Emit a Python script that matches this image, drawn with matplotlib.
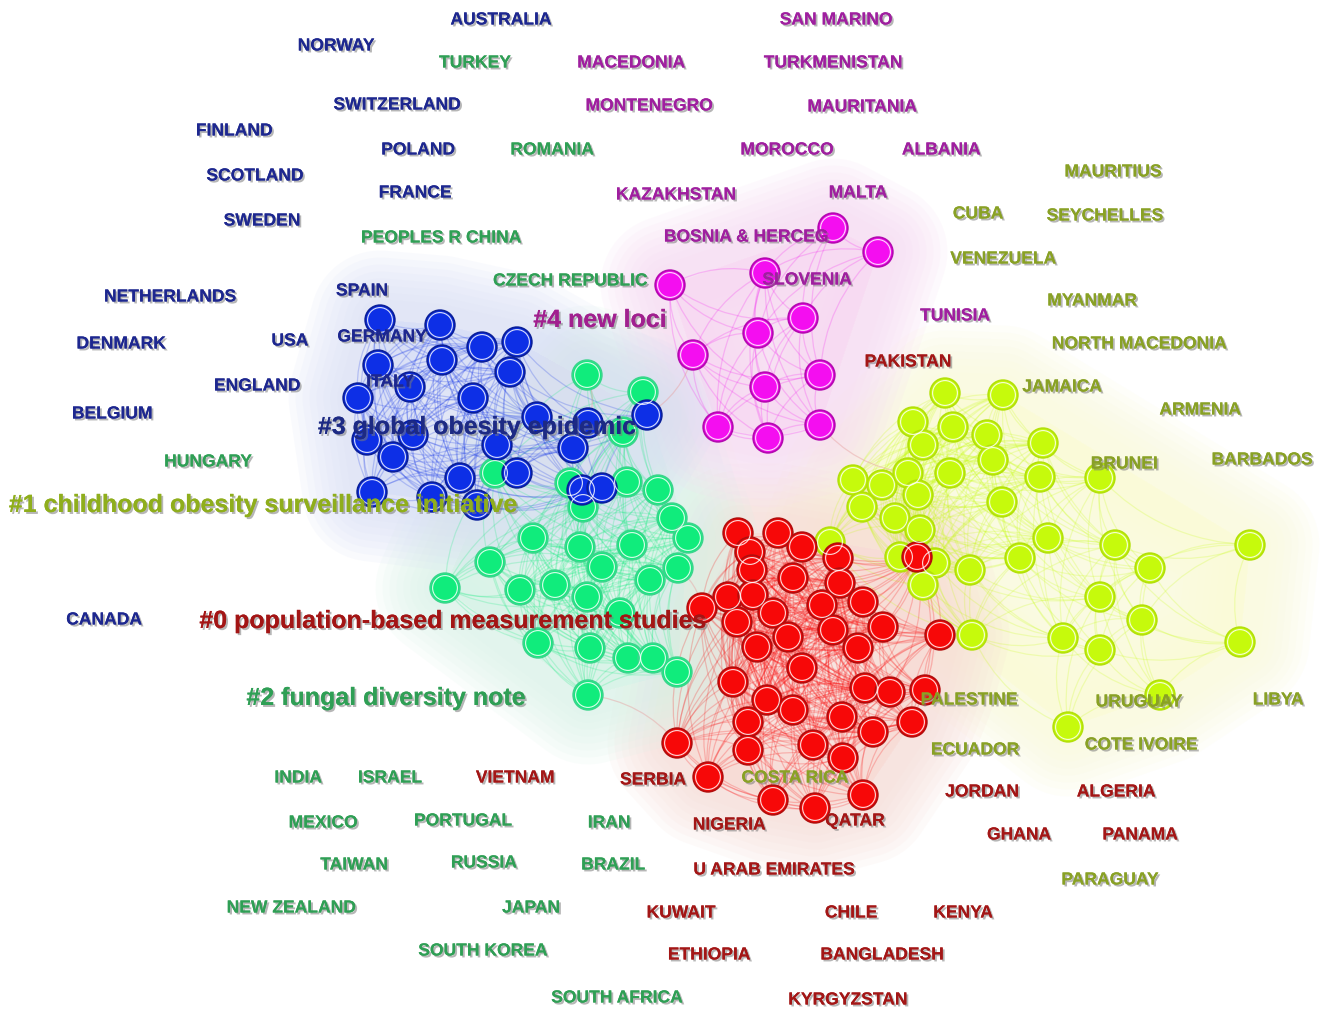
"""Country co-occurrence network (CiteSpace-style cluster view) rebuilt in matplotlib."""

import matplotlib

matplotlib.use("Agg")
import matplotlib.pyplot as plt
import matplotlib.patheffects as pe
import numpy as np
from matplotlib.patches import Circle, PathPatch, Polygon
from matplotlib.path import Path

plt.rcParams["font.family"] = ["Liberation Sans", "DejaVu Sans"]

# ---- node layout per cluster (image pixel coords, y downwards) ----
blue_nodes = [
    (380, 320), (440, 325), (482, 347), (517, 342), (378, 365), (442, 360),
    (510, 372), (410, 387), (358, 398), (473, 398), (537, 417), (367, 440),
    (413, 435), (393, 457), (497, 445), (573, 448), (588, 423), (647, 415),
    (460, 478), (517, 473), (372, 492), (432, 497), (477, 505), (582, 490),
    (602, 488),
]
green_nodes = [
    (587, 375), (643, 392), (623, 432), (495, 473), (570, 483), (627, 482),
    (658, 490), (583, 507), (672, 518), (533, 538), (580, 547), (632, 545),
    (688, 538), (602, 567), (678, 568), (490, 562), (445, 588), (555, 585),
    (650, 580), (520, 590), (587, 597), (620, 613), (538, 643), (590, 648),
    (628, 658), (653, 658), (677, 672), (588, 695),
]
magenta_nodes = [
    (833, 228), (878, 252), (765, 273), (670, 285), (803, 318), (758, 333),
    (693, 355), (820, 375), (765, 387), (718, 427), (820, 425), (768, 438),
]
red_nodes = [
    (738, 533), (778, 533), (802, 547), (750, 552), (838, 558), (752, 570),
    (793, 578), (840, 583), (728, 597), (753, 595), (702, 608), (822, 605),
    (863, 602), (737, 622), (773, 613), (833, 630), (883, 627), (940, 635),
    (757, 647), (788, 637), (858, 648), (802, 668), (733, 682), (865, 688),
    (890, 692), (925, 690), (767, 700), (793, 710), (842, 717), (748, 722),
    (873, 732), (912, 722), (813, 745), (748, 750), (843, 758), (677, 743),
    (708, 777), (773, 800), (815, 808), (863, 795), (917, 557),
]
yellow_nodes = [
    (945, 393), (1003, 395), (913, 422), (953, 427), (987, 435), (1043, 443),
    (923, 445), (993, 460), (853, 480), (882, 485), (908, 473), (950, 473),
    (1040, 477), (1100, 478), (862, 507), (918, 495), (1002, 502), (895, 518),
    (920, 530), (830, 542), (1048, 538), (1115, 545), (1250, 545), (900, 557),
    (935, 563), (1020, 558), (970, 570), (923, 585), (1150, 568), (1100, 597),
    (1142, 620), (972, 635), (1063, 638), (1100, 650), (1240, 642), (1160, 695),
    (1068, 727),
]

# ---- country labels per cluster: (text, x centre, y centre) ----
blue_labels = [
    ("AUSTRALIA", 501, 20), ("NORWAY", 336, 46), ("SWITZERLAND", 397, 105),
    ("FINLAND", 234, 131), ("POLAND", 418, 150), ("SCOTLAND", 255, 176),
    ("FRANCE", 415, 193), ("SWEDEN", 262, 221), ("NETHERLANDS", 170, 297),
    ("SPAIN", 362, 291), ("DENMARK", 121, 344), ("USA", 290, 341),
    ("GERMANY", 382, 337), ("ENGLAND", 257, 386), ("ITALY", 390, 382),
    ("BELGIUM", 112, 414), ("CANADA", 104, 620),
]
green_labels = [
    ("TURKEY", 475, 63), ("ROMANIA", 552, 150), ("PEOPLES R CHINA", 441, 238),
    ("CZECH REPUBLIC", 570, 281), ("HUNGARY", 208, 462), ("INDIA", 298, 778),
    ("ISRAEL", 390, 778), ("MEXICO", 323, 823), ("PORTUGAL", 463, 821),
    ("IRAN", 609, 823), ("TAIWAN", 354, 865), ("RUSSIA", 484, 863),
    ("BRAZIL", 613, 865), ("NEW ZEALAND", 291, 908), ("JAPAN", 531, 908),
    ("SOUTH KOREA", 483, 951), ("SOUTH AFRICA", 617, 998),
]
magenta_labels = [
    ("SAN MARINO", 836, 20), ("MACEDONIA", 631, 63), ("TURKMENISTAN", 833, 63),
    ("MONTENEGRO", 649, 106), ("MAURITANIA", 862, 107), ("MOROCCO", 787, 150),
    ("ALBANIA", 941, 150), ("KAZAKHSTAN", 676, 195), ("MALTA", 858, 193),
    ("BOSNIA & HERCEG", 746, 237), ("SLOVENIA", 807, 280), ("TUNISIA", 955, 316),
]
red_labels = [
    ("PAKISTAN", 908, 362), ("VIETNAM", 515, 778), ("SERBIA", 653, 780),
    ("NIGERIA", 729, 825), ("QATAR", 855, 821), ("U ARAB EMIRATES", 774, 870),
    ("JORDAN", 982, 792), ("ALGERIA", 1116, 792), ("GHANA", 1019, 835),
    ("PANAMA", 1140, 835), ("KUWAIT", 681, 913), ("CHILE", 851, 913),
    ("KENYA", 963, 913), ("ETHIOPIA", 709, 955), ("BANGLADESH", 882, 955),
    ("KYRGYZSTAN", 848, 1000),
]
yellow_labels = [
    ("MAURITIUS", 1113, 172), ("CUBA", 978, 214), ("SEYCHELLES", 1105, 216),
    ("VENEZUELA", 1003, 259), ("MYANMAR", 1092, 301),
    ("NORTH MACEDONIA", 1139, 344), ("JAMAICA", 1062, 387),
    ("ARMENIA", 1200, 410), ("BRUNEI", 1124, 464), ("BARBADOS", 1262, 460),
    ("PALESTINE", 969, 700), ("URUGUAY", 1139, 702), ("LIBYA", 1278, 700),
    ("ECUADOR", 975, 750), ("COTE IVOIRE", 1141, 745),
    ("COSTA RICA", 795, 778), ("PARAGUAY", 1110, 880),
]

cluster_titles = [
    ("#4 new loci", 600, 320, "#a1208f"),
    ("#3 global obesity epidemic", 477, 427, "#1d2a84"),
    ("#1 childhood obesity surveillance initiative", 263, 505, "#8fae1c"),
    ("#0 population-based measurement studies", 453, 621, "#a31515"),
    ("#2 fungal diversity note", 386, 698, "#2f9f55"),
]

# cluster style: nodes, labels, node colour, node edge, label colour, hull colour
clusters = [
    (yellow_nodes, yellow_labels, "#c6fa0c", "#b3e00a", "#89a125", "#fafad8"),
    (red_nodes, red_labels, "#f70808", "#b30d0d", "#a31616", "#f7dcd6"),
    (green_nodes, green_labels, "#10ec7c", "#3ad58c", "#2f9f55", "#d9f3e8"),
    (magenta_nodes, magenta_labels, "#f40ef0", "#b40ab0", "#9f1f9f", "#f7daf2"),
    (blue_nodes, blue_labels, "#0d2fe6", "#0a1f9a", "#1d278f", "#d8dff6"),
]


def convex_hull(points):
    pts = sorted(set(map(tuple, points)))
    if len(pts) < 3:
        return pts

    def cross(o, a, b):
        return (a[0] - o[0]) * (b[1] - o[1]) - (a[1] - o[1]) * (b[0] - o[0])

    lower, upper = [], []
    for p in pts:
        while len(lower) >= 2 and cross(lower[-2], lower[-1], p) <= 0:
            lower.pop()
        lower.append(p)
    for p in reversed(pts):
        while len(upper) >= 2 and cross(upper[-2], upper[-1], p) <= 0:
            upper.pop()
        upper.append(p)
    return lower[:-1] + upper[:-1]


def curved_edge(ax, p, q, color, alpha, lw):
    p, q = np.asarray(p, float), np.asarray(q, float)
    mid = (p + q) / 2
    d = q - p
    ctrl = mid + np.array([-d[1], d[0]]) * 0.2
    path = Path([p, ctrl, q], [Path.MOVETO, Path.CURVE3, Path.CURVE3])
    ax.add_patch(PathPatch(path, fc="none", ec=color, alpha=alpha, lw=lw, zorder=2))


fig = plt.figure(figsize=(13.24, 10.10), dpi=100)
ax = fig.add_axes([0, 0, 1, 1])
ax.set_xlim(0, 1324)
ax.set_ylim(1010, 0)
ax.axis("off")

# soft cluster backgrounds: many thin stacked strokes fade towards the rim
for nodes, _, fill, _, _, hull_c in clusters:
    hull = convex_hull(nodes)
    for lw in np.linspace(100, 30, 8):
        ax.add_patch(Polygon(hull, closed=True, fc=hull_c, ec=hull_c, lw=lw,
                             joinstyle="round", alpha=0.14, zorder=0))

# links inside clusters
for nodes, _, fill, _, _, _ in clusters:
    arr = np.array(nodes, float)
    for i in range(len(arr)):
        for j in range(i + 1, len(arr)):
            if np.hypot(*(arr[i] - arr[j])) < 170:
                curved_edge(ax, arr[i], arr[j], fill, 0.22, 0.9)

# a few links between neighbouring clusters
bridges = [
    ((940, 635), (972, 635)), ((917, 557), (935, 563)), ((702, 608), (677, 568)),
    ((647, 415), (693, 355)), ((588, 423), (587, 375)), ((677, 743), (588, 695)),
    ((917, 557), (862, 507)), ((820, 425), (908, 473)),
]
for p, q in bridges:
    curved_edge(ax, p, q, "#e7a0a0", 0.45, 0.9)

# nodes
for nodes, _, fill, edge, _, _ in clusters:
    for x, y in nodes:
        ax.add_patch(Circle((x, y), 14.8, fc=fill, ec=edge, lw=1.3, zorder=4))
        ax.add_patch(Circle((x, y), 12.4, fc="none", ec="white", lw=0.8,
                            alpha=0.85, zorder=5))

shadow = [pe.withSimplePatchShadow(offset=(1.4, -1.4), shadow_rgbFace="#7a7a7a",
                                   alpha=0.55), pe.Normal()]

# country labels
for _, labels, _, _, text_c, _ in clusters:
    for name, x, y in labels:
        ax.text(x, y, name, ha="center", va="center", fontsize=12.6,
                fontweight="bold", color=text_c, path_effects=shadow, zorder=7)

# cluster titles
for title, x, y, c in cluster_titles:
    ax.text(x, y, title, ha="center", va="center", fontsize=18,
            fontweight="bold", color=c, path_effects=shadow, zorder=8)

fig.savefig("out.png", dpi=100)
plt.close(fig)
